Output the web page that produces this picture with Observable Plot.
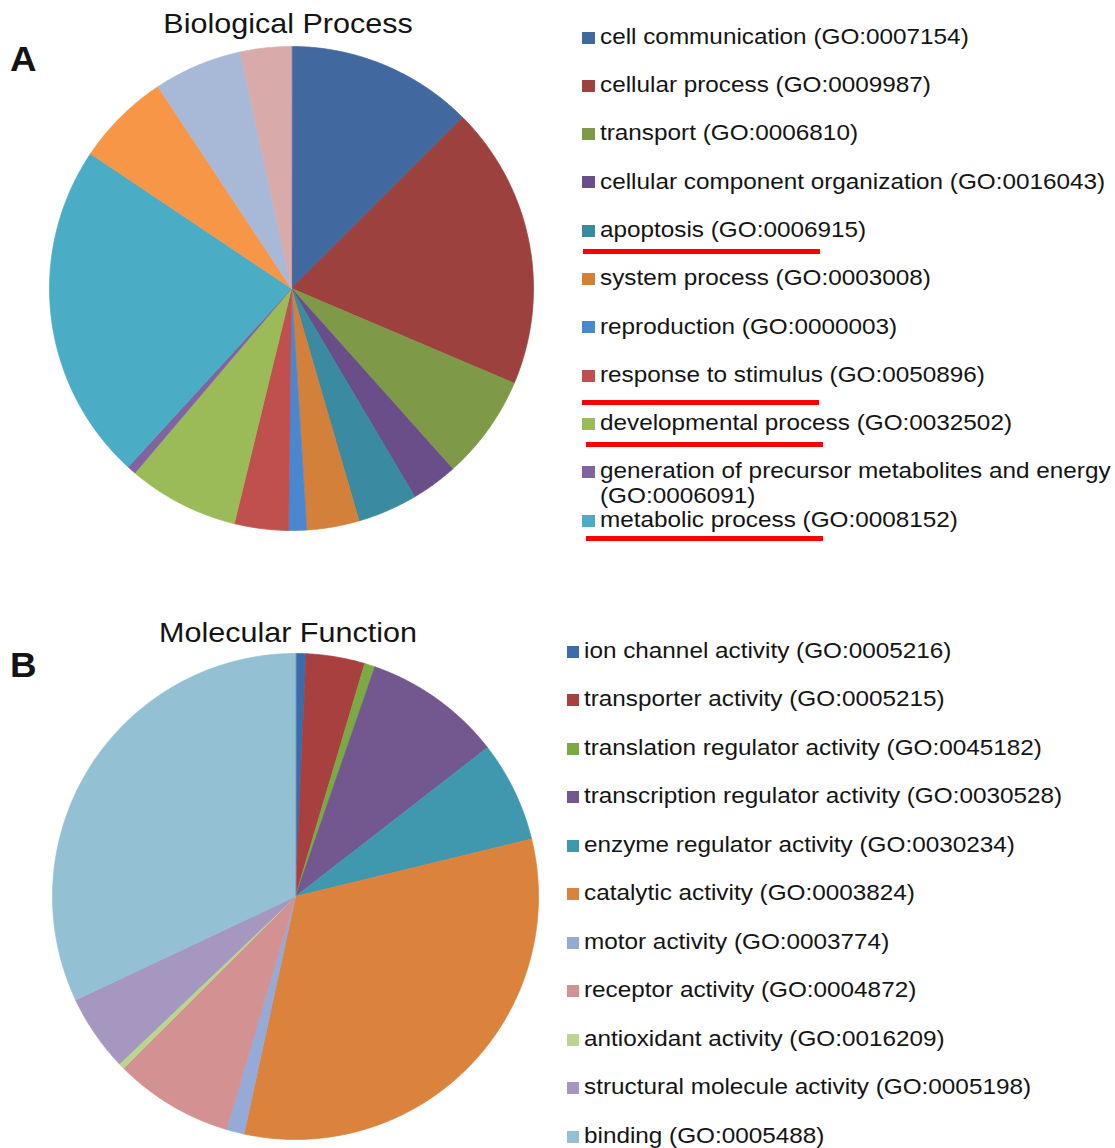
<!DOCTYPE html>
<html><head><meta charset="utf-8">
<script src="https://cdn.jsdelivr.net/npm/d3@7"></script>
<script src="https://cdn.jsdelivr.net/npm/@observablehq/plot@0.6"></script>
<style>
body{margin:0;background:#fff;}
#fig{position:relative;width:1115px;height:1148px;overflow:hidden;font-family:"Liberation Sans",Arial,Helvetica,sans-serif;color:#141414;background:#fff;}
.abs{position:absolute;white-space:nowrap;}
.pie{position:absolute;}
.pie svg{display:block;overflow:visible;}
</style></head><body><div id="fig"></div>
<script>
// ---------- DATA ----------
const bpCategories = [
  "cell communication (GO:0007154)",
  "cellular process (GO:0009987)",
  "transport (GO:0006810)",
  "cellular component organization (GO:0016043)",
  "apoptosis (GO:0006915)",
  "system process (GO:0003008)",
  "reproduction (GO:0000003)",
  "response to stimulus (GO:0050896)",
  "developmental process (GO:0032502)",
  "generation of precursor metabolites and energy (GO:0006091)",
  "metabolic process (GO:0008152)",
  "unlabelled slice 12",
  "unlabelled slice 13",
  "unlabelled slice 14"
];
const bpValues = [12.5, 18.9, 7.0, 3.1, 4.0, 3.5, 1.2, 3.6, 7.4, 0.6, 22.6, 6.3, 5.9, 3.4];
const bpLegendCount = 11;
const bpUnderlined = [
  "apoptosis (GO:0006915)",
  "response to stimulus (GO:0050896)",
  "developmental process (GO:0032502)",
  "metabolic process (GO:0008152)"
];
const bpColors = ["#4169A0","#9D413E","#7E9A48","#694E8A","#3A8AA1","#D3803A","#4A87D0","#C0504D","#9BBB59","#8064A2","#4BACC6","#F79646","#A8B9D8","#D9AAAA"];

const mfCategories = [
  "ion channel activity (GO:0005216)",
  "transporter activity (GO:0005215)",
  "translation regulator activity (GO:0045182)",
  "transcription regulator activity (GO:0030528)",
  "enzyme regulator activity (GO:0030234)",
  "catalytic activity (GO:0003824)",
  "motor activity (GO:0003774)",
  "receptor activity (GO:0004872)",
  "antioxidant activity (GO:0016209)",
  "structural molecule activity (GO:0005198)",
  "binding (GO:0005488)"
];
const mfValues = [0.7, 3.9, 0.7, 9.2, 6.7, 32.2, 1.2, 7.9, 0.4, 5.1, 32.0];
const mfColors = ["#3C6CAB","#A8403F","#7BAA44","#73578F","#4098AF","#DB833D","#95AAD6","#D39191","#BAD590","#A597BF","#93C1D3"];

const titles = ["Biological Process", "Molecular Function"];
const panelLetters = ["A", "B"];

// ---------- LAYOUT ----------
const fig = document.getElementById("fig");

function piePlot(cats, vals, colors, size) {
  const arcs = d3.pie().sort(null).value(d => d.value)(cats.map((c, i) => ({category: c, value: vals[i]})));
  const features = arcs.map(a => {
    const pts = [[0, 0]];
    const n = Math.max(2, Math.ceil((a.endAngle - a.startAngle) / (Math.PI / 360)));
    for (let k = 0; k <= n; k++) {
      const t = a.startAngle + (a.endAngle - a.startAngle) * k / n;
      pts.push([Math.sin(t), -Math.cos(t)]);
    }
    pts.push([0, 0]);
    return {type: "Feature", properties: {category: a.data.category}, geometry: {type: "Polygon", coordinates: [pts]}};
  });
  const frame = {type: "Polygon", coordinates: [[[-1, -1], [1, -1], [1, 1], [-1, 1], [-1, -1]]]};
  return Plot.plot({
    width: size, height: size, margin: 0,
    projection: {type: "identity", domain: frame},
    color: {type: "ordinal", domain: cats, range: colors},
    marks: [
      Plot.geo(features, {fill: d => d.properties.category, stroke: d => d.properties.category, strokeWidth: 0.7})
    ]
  });
}

function addText(txt, {left, baseline, fs, sx = 1.08, weight = "normal", center = false, wrap = null, lh = null}) {
  const d = document.createElement("div");
  d.className = "abs";
  d.textContent = txt;
  const L = lh || fs;
  const top = baseline - ((L - 1.117 * fs) / 2 + 0.905 * fs);
  d.style.left = left + "px";
  d.style.top = top + "px";
  d.style.fontSize = fs + "px";
  d.style.lineHeight = L + "px";
  d.style.fontWeight = weight;
  if (wrap) { d.style.whiteSpace = "normal"; d.style.width = wrap + "px"; }
  if (center) { d.style.transformOrigin = "50% 0"; d.style.transform = `translateX(-50%) scaleX(${sx})`; }
  else { d.style.transformOrigin = "0 0"; d.style.transform = `scaleX(${sx})`; }
  fig.appendChild(d);
  return d;
}

function addBox(left, top, w, h, color) {
  const d = document.createElement("div");
  d.style.position = "absolute";
  d.style.left = left + "px"; d.style.top = top + "px";
  d.style.width = w + "px"; d.style.height = h + "px";
  d.style.background = color;
  fig.appendChild(d);
  return d;
}

function panel(cfg) {
  const {cats, vals, colors, cx, cy, r, title, letter, titleBaseline, letterBaseline,
         legendCount, swatchX, textX, base0, step, underlined = [], underlineSpec = {}} = cfg;
  const plot = piePlot(cats, vals, colors, 2 * r);
  const holder = document.createElement("div");
  holder.className = "pie";
  holder.style.left = (cx - r) + "px";
  holder.style.top = (cy - r) + "px";
  holder.appendChild(plot);
  fig.appendChild(holder);
  const color = plot.scale("color");
  addText(title, {left: 288, baseline: titleBaseline, fs: 27.5, sx: 1.11, center: true});
  addText(letter, {left: 10, baseline: letterBaseline, fs: 35, sx: 1.05, weight: "bold"});
  cats.slice(0, legendCount).forEach((c, i) => {
    const b = base0 + i * step;
    addBox(swatchX, b - 12.5, 12.5, 12, color.apply(c));
    addText(c, {left: textX, baseline: b, fs: 22.5, sx: 1.08, wrap: 490, lh: 25});
    if (underlined.includes(c)) {
      const u = underlineSpec[c];
      addBox(u.x0, b + u.dy, u.x1 - u.x0, 5, "#FF0000");
    }
  });
}

panel({
  cats: bpCategories, vals: bpValues, colors: bpColors,
  cx: 290.5, cy: 288, r: 242,
  title: titles[0], letter: panelLetters[0], titleBaseline: 33, letterBaseline: 71,
  legendCount: bpLegendCount, swatchX: 582, textX: 599.5, base0: 44, step: 48.3,
  underlined: bpUnderlined,
  underlineSpec: {
    "apoptosis (GO:0006915)": {x0: 583, x1: 820, dy: 12},
    "response to stimulus (GO:0050896)": {x0: 582, x1: 819, dy: 18},
    "developmental process (GO:0032502)": {x0: 586, x1: 823, dy: 12},
    "metabolic process (GO:0008152)": {x0: 586, x1: 823, dy: 9}
  }
});

panel({
  cats: mfCategories, vals: mfValues, colors: mfColors,
  cx: 295, cy: 896, r: 243,
  title: titles[1], letter: panelLetters[1], titleBaseline: 642, letterBaseline: 677,
  legendCount: mfCategories.length, swatchX: 566.5, textX: 584, base0: 658, step: 48.5
});
</script>
</body></html>
